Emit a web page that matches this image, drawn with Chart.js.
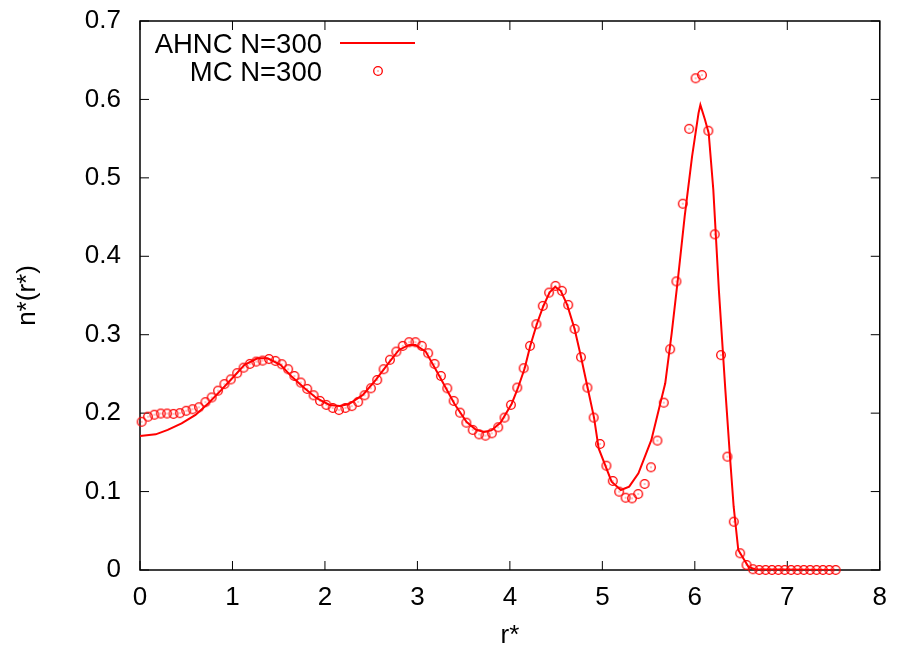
<!DOCTYPE html>
<html>
<head>
<meta charset="utf-8">
<script src="https://cdn.jsdelivr.net/npm/chart.js@4"></script>
<style>
  body { margin: 0; background: #fff; }
  canvas { display: block; }
</style>
</head>
<body>
<canvas id="myChart" width="899" height="653"></canvas>
<script>
// MC N=300 points (r*, n*)
const mcR = [0.018, 0.087, 0.156, 0.225, 0.293, 0.362, 0.431, 0.500, 0.569, 0.638,
  0.707, 0.775, 0.844, 0.913, 0.982, 1.051, 1.120, 1.188, 1.257, 1.326,
  1.395, 1.464, 1.533, 1.602, 1.670, 1.739, 1.808, 1.877, 1.946, 2.015,
  2.084, 2.152, 2.221, 2.290, 2.359, 2.428, 2.497, 2.565, 2.634, 2.703,
  2.772, 2.841, 2.910, 2.979, 3.047, 3.116, 3.185, 3.254, 3.323, 3.392,
  3.461, 3.529, 3.598, 3.667, 3.736, 3.805, 3.874, 3.942, 4.011, 4.080,
  4.149, 4.218, 4.287, 4.356, 4.424, 4.493, 4.562, 4.631, 4.700, 4.769,
  4.838, 4.906, 4.975, 5.044, 5.113, 5.182, 5.251, 5.320, 5.388, 5.457,
  5.526, 5.595, 5.664, 5.733, 5.801, 5.870, 5.939, 6.008, 6.077, 6.146,
  6.215, 6.283, 6.352, 6.421, 6.490, 6.559, 6.628, 6.697, 6.765, 6.834,
  6.903, 6.972, 7.041, 7.110, 7.178, 7.247, 7.316, 7.385, 7.454, 7.523];
const mcN = [0.189, 0.1955, 0.198, 0.1995, 0.1995, 0.199, 0.200, 0.203, 0.205, 0.2075,
  0.214, 0.220, 0.2287, 0.237, 0.243, 0.251, 0.258, 0.2628, 0.2657, 0.267,
  0.269, 0.2666, 0.2624, 0.256, 0.2474, 0.239, 0.2309, 0.2228, 0.2156, 0.2105,
  0.2066, 0.204, 0.2066, 0.209, 0.2143, 0.2228, 0.2317, 0.2423, 0.256, 0.268,
  0.2785, 0.2857, 0.2904, 0.2904, 0.2857, 0.2764, 0.2628, 0.2474, 0.2317, 0.2156,
  0.2006, 0.1879, 0.1786, 0.173, 0.1713, 0.1743, 0.182, 0.1943, 0.2105, 0.2326,
  0.2573, 0.2857, 0.3134, 0.3367, 0.3537, 0.3622, 0.3559, 0.338, 0.3074, 0.2713,
  0.2326, 0.1943, 0.1607, 0.133, 0.1135, 0.0999, 0.0922, 0.0914, 0.0969, 0.1097,
  0.131, 0.165, 0.2134, 0.2815, 0.368, 0.467, 0.5625, 0.627, 0.631, 0.56,
  0.428, 0.274, 0.1445, 0.0616, 0.0213, 0.0064, 0.001, 0, 0, 0,
  0, 0, 0, 0, 0, 0, 0, 0, 0, 0];

// AHNC N=300 curve (r*, n*)
const ahncR = [0, 0.17, 0.30, 0.45, 0.60, 0.74, 0.88, 1.02, 1.13, 1.27,
  1.38, 1.52, 1.64, 1.78, 1.91, 2.05, 2.16, 2.26, 2.41, 2.55,
  2.70, 2.80, 2.91, 2.98, 3.09, 3.24, 3.40, 3.53, 3.63, 3.72,
  3.80, 3.90, 4.02, 4.09, 4.16, 4.22, 4.29, 4.36, 4.43, 4.49,
  4.55, 4.62, 4.70, 4.77, 4.84, 4.91, 4.96, 5.10, 5.20, 5.29,
  5.39, 5.53, 5.68, 5.75, 5.82, 5.89, 5.97, 6.04, 6.06, 6.11,
  6.15, 6.20, 6.26, 6.33, 6.38, 6.42, 6.47, 6.58, 6.65, 7.50];
const ahncN = [0.171, 0.173, 0.1786, 0.187, 0.1977, 0.2126, 0.2296, 0.2474, 0.2615, 0.270,
  0.270, 0.2615, 0.2466, 0.2317, 0.219, 0.2105, 0.209, 0.2117, 0.2232, 0.2423,
  0.2657, 0.2806, 0.287, 0.287, 0.2785, 0.2466, 0.212, 0.189, 0.179, 0.176,
  0.178, 0.188, 0.212, 0.233, 0.2573, 0.2857, 0.313, 0.336, 0.354, 0.361,
  0.356, 0.338, 0.3074, 0.2713, 0.2326, 0.1943, 0.155, 0.1126, 0.102, 0.1063,
  0.1233, 0.1658, 0.238, 0.302, 0.374, 0.4506, 0.527, 0.5825, 0.593, 0.574,
  0.557, 0.4847, 0.357, 0.2296, 0.1445, 0.0807, 0.0255, 0.004, 0.001, 0];

const xTicks = [0, 1, 2, 3, 4, 5, 6, 7, 8];
const yTicks = [0, 0.1, 0.2, 0.3, 0.4, 0.5, 0.6, 0.7];
const legendLabels = ['AHNC N=300', 'MC N=300'];

const FONT = 'Liberation Sans, Arial, sans-serif';
const RED = '#ff0000';

// circle-with-dot marker like gnuplot point type 6
const marker = document.createElement('canvas');
marker.width = 12; marker.height = 12;
{
  const m = marker.getContext('2d');
  m.strokeStyle = RED; m.lineWidth = 1.3;
  m.beginPath(); m.arc(6, 6, 4.3, 0, Math.PI * 2); m.stroke();
  m.fillStyle = RED; m.fillRect(5.5, 5.5, 1, 1);
}

const frame = {
  id: 'frame',
  beforeDatasetsDraw(chart) {
    const { ctx, chartArea: a, scales: { x, y } } = chart;
    ctx.save();
    ctx.strokeStyle = '#000';
    ctx.lineWidth = 1;
    ctx.beginPath();
    xTicks.forEach(v => {
      const px = x.getPixelForValue(v);
      ctx.moveTo(px, a.bottom); ctx.lineTo(px, a.bottom - 9);
      ctx.moveTo(px, a.top); ctx.lineTo(px, a.top + 9);
    });
    yTicks.forEach(v => {
      const py = y.getPixelForValue(v);
      ctx.moveTo(a.left, py); ctx.lineTo(a.left + 9, py);
      ctx.moveTo(a.right, py); ctx.lineTo(a.right - 9, py);
    });
    ctx.stroke();
    ctx.lineWidth = 1.5;
    ctx.strokeRect(a.left, a.top, a.right - a.left, a.bottom - a.top);
    ctx.restore();
  }
};

const keyBox = {
  id: 'keyBox',
  afterDatasetsDraw(chart) {
    const ctx = chart.ctx;
    ctx.save();
    ctx.font = '27.5px ' + FONT;
    ctx.fillStyle = '#000';
    ctx.textAlign = 'right';
    ctx.textBaseline = 'alphabetic';
    ctx.fillText(legendLabels[0], 322, 52.5);
    ctx.fillText(legendLabels[1], 322, 81);
    ctx.strokeStyle = RED;
    ctx.lineWidth = 2;
    ctx.beginPath(); ctx.moveTo(340, 43); ctx.lineTo(415, 43); ctx.stroke();
    ctx.drawImage(marker, 378 - 6, 71 - 6);
    ctx.restore();
  }
};

const ctx = document.getElementById('myChart');

new Chart(ctx, {
  type: 'scatter',
  data: {
    datasets: [
      {
        label: legendLabels[0],
        data: ahncR.map((r, i) => ({ x: r, y: ahncN[i] })),
        showLine: true,
        borderColor: RED,
        borderWidth: 2,
        tension: 0,
        pointRadius: 0,
        order: 1
      },
      {
        label: legendLabels[1],
        data: mcR.map((r, i) => ({ x: r, y: mcN[i] })),
        showLine: false,
        pointStyle: marker,
        pointRadius: 5,
        clip: false,
        order: 0
      }
    ]
  },
  options: {
    responsive: false,
    animation: false,
    devicePixelRatio: 1,
    layout: { padding: { top: 21, right: 15, left: 0, bottom: 0 } },
    plugins: { legend: { display: false }, tooltip: { enabled: false } },
    scales: {
      x: {
        type: 'linear',
        min: 0,
        max: 8,
        afterBuildTicks: s => { s.ticks = xTicks.map(v => ({ value: v })); },
        afterFit: s => { s.height = 83; },
        grid: { display: false, drawTicks: false },
        border: { display: false },
        ticks: { color: '#000', font: { family: FONT, size: 26 }, padding: 12, maxRotation: 0 },
        title: { display: true, text: 'r*', color: '#000', font: { family: FONT, size: 26 }, padding: { top: 0, bottom: 2 } }
      },
      y: {
        min: 0,
        max: 0.7,
        afterBuildTicks: s => { s.ticks = yTicks.map(v => ({ value: v })); },
        afterFit: s => { s.width = 140; s.paddingTop = 0; s.paddingBottom = 0; },
        grid: { display: false, drawTicks: false },
        border: { display: false },
        ticks: { color: '#000', font: { family: FONT, size: 26 }, padding: 19, callback: v => String(v) },
        title: { display: true, text: 'n*(r*)', color: '#000', font: { family: FONT, size: 26 }, padding: { top: 12, bottom: 0 } }
      }
    }
  },
  plugins: [frame, keyBox]
});
</script>
</body>
</html>
